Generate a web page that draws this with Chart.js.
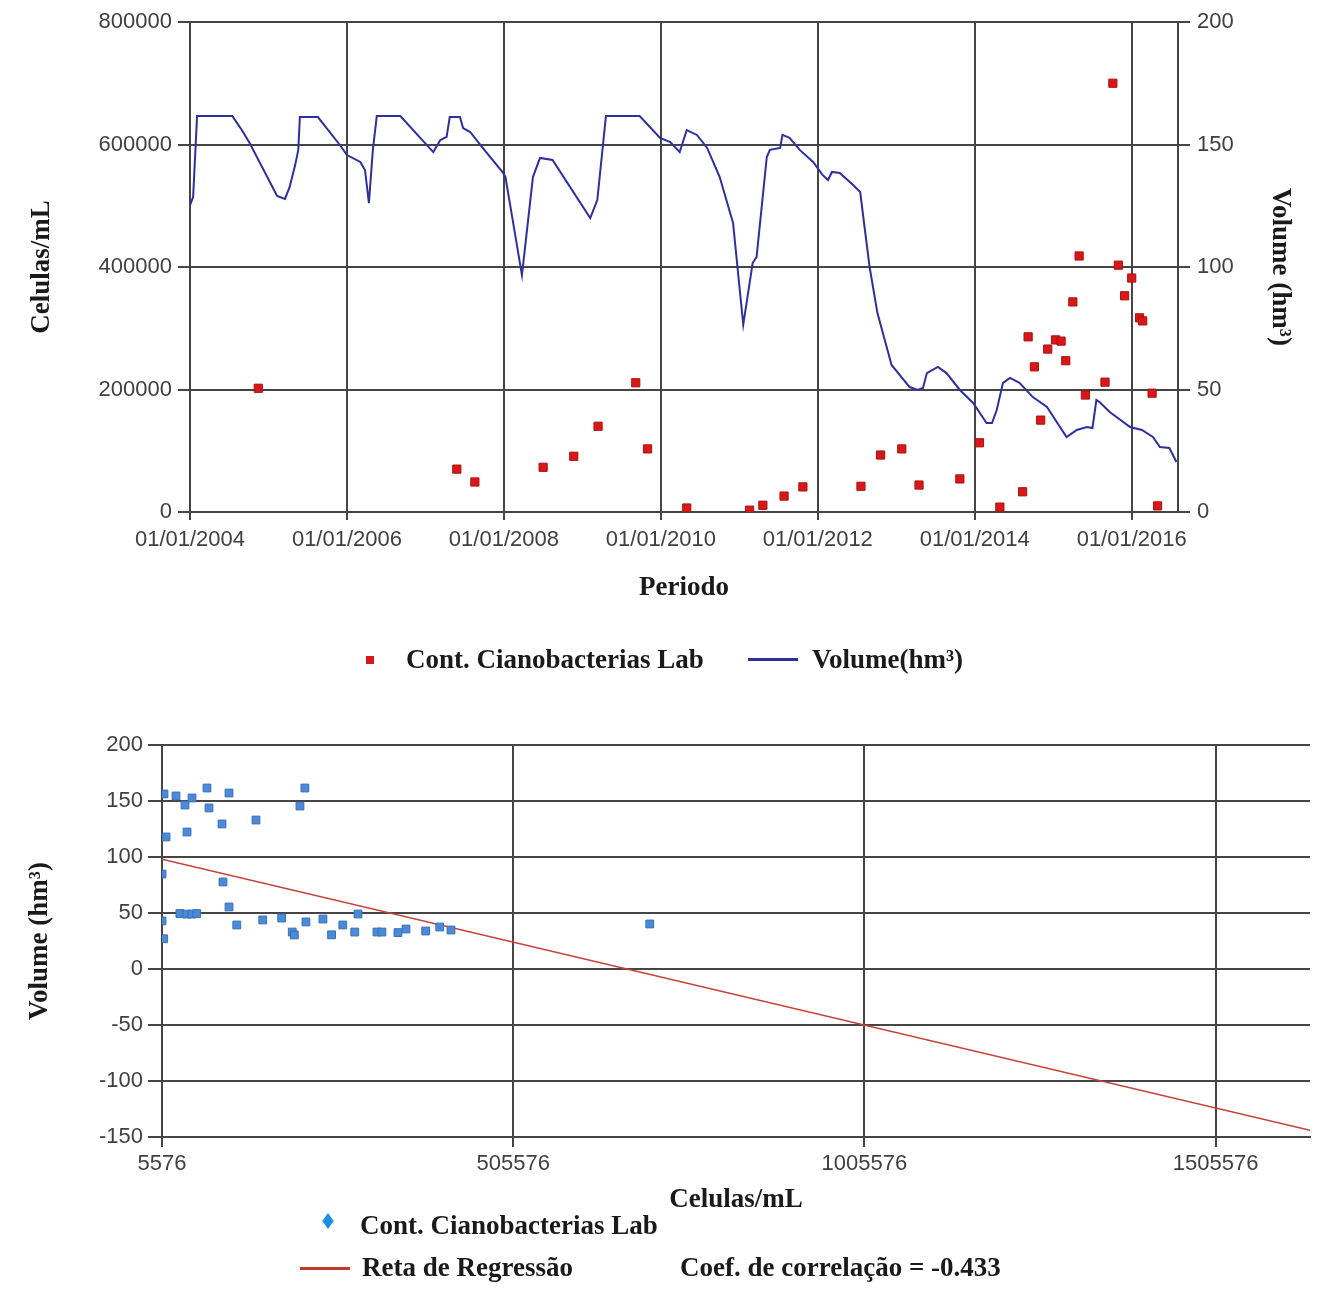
<!DOCTYPE html>
<html>
<head>
<meta charset="utf-8">
<script src="https://cdn.jsdelivr.net/npm/chart.js@4.4.1/dist/chart.umd.min.js"></script>
<style>
html,body{margin:0;padding:0;background:#fff;}
#wrap{position:relative;width:1336px;height:1293px;overflow:hidden;background:#fff;}
#c1{position:absolute;left:0;top:0;width:1336px;height:700px;}
#c2{position:absolute;left:0;top:700px;width:1336px;height:593px;}
.leg{position:absolute;font-family:"Liberation Serif","Times New Roman",serif;font-weight:bold;font-size:27px;color:#1a1a1a;white-space:nowrap;line-height:27px;}
.mk{position:absolute;}
</style>
</head>
<body>
<div id="wrap">
<canvas id="c1" width="1336" height="700"></canvas>
<canvas id="c2" width="1336" height="593"></canvas>

<div class="mk" style="left:366px;top:656px;width:8px;height:8px;background:#d81818;"></div>
<div class="leg" style="left:406px;top:646px;">Cont. Cianobacterias Lab</div>
<div class="mk" style="left:748px;top:658px;width:50px;height:3px;background:#2f2f9f;"></div>
<div class="leg" style="left:812px;top:646px;">Volume(hm³)</div>

<div class="mk" style="left:324px;top:1217px;width:8px;height:8px;background:#1e8fe6;transform:scaleY(1.4) rotate(45deg);"></div>
<div class="leg" style="left:360px;top:1212px;">Cont. Cianobacterias Lab</div>
<div class="mk" style="left:300px;top:1267px;width:50px;height:3px;background:#c0392b;"></div>
<div class="leg" style="left:362px;top:1254px;">Reta de Regressão</div>
<div class="leg" style="left:680px;top:1254px;">Coef. de correlação = -0.433</div>
</div>

<script>
// ---------- Top chart data ----------
const volumeYears = [
  2004.00, 2004.04, 2004.09, 2004.54, 2004.66, 2004.76, 2005.11, 2005.21, 2005.27, 2005.34,
  2005.38, 2005.40, 2005.63, 2005.91, 2006.00, 2006.17, 2006.23, 2006.28, 2006.33, 2006.38,
  2006.68, 2007.10, 2007.19, 2007.27, 2007.31, 2007.44, 2007.48, 2007.57, 2007.73, 2007.99,
  2008.02, 2008.23, 2008.37, 2008.46, 2008.62, 2009.10, 2009.19, 2009.26, 2009.30, 2009.73,
  2009.99, 2010.12, 2010.24, 2010.33, 2010.46, 2010.59, 2010.75, 2010.92, 2011.05, 2011.17,
  2011.22, 2011.35, 2011.39, 2011.52, 2011.55, 2011.64, 2011.77, 2011.94, 2012.06, 2012.13,
  2012.18, 2012.28, 2012.45, 2012.54, 2012.66, 2012.76, 2012.94, 2013.17, 2013.27, 2013.34,
  2013.39, 2013.53, 2013.64, 2013.81, 2013.98, 2014.15, 2014.22, 2014.28, 2014.36, 2014.45,
  2014.57, 2014.74, 2014.92, 2015.17, 2015.30, 2015.43, 2015.50, 2015.55, 2015.59, 2015.72,
  2015.98, 2016.13, 2016.27, 2016.36, 2016.48, 2016.57
];
const volumeValues = [
  125.3, 128.6, 161.6, 161.6, 155.9, 150.6, 129.0, 127.8, 132.7, 141.6,
  147.8, 161.2, 161.2, 149.8, 145.7, 142.9, 139.6, 126.1, 147.8, 161.6,
  161.6, 146.9, 151.8, 153.1, 161.2, 161.2, 156.7, 155.1, 148.6, 138.4,
  136.7, 96.7, 136.7, 144.5, 143.7, 120.0, 127.3, 149.0, 161.6, 161.6,
  152.7, 151.0, 146.9, 155.9, 153.9, 148.6, 136.7, 118.0, 76.5, 101.6,
  104.1, 144.9, 147.8, 148.6, 153.9, 152.7, 147.8, 142.9, 137.6, 135.5,
  138.8, 138.4, 133.5, 130.6, 100.0, 81.2, 60.0, 51.0, 49.8, 50.6,
  56.7, 59.2, 56.7, 49.8, 44.5, 36.3, 36.3, 41.6, 52.7, 54.7,
  52.7, 46.9, 42.9, 30.6, 33.5, 34.7, 34.3, 45.7, 44.9, 40.8,
  34.7, 33.5, 30.6, 26.5, 26.1, 20.4
];
const cyanoYears = [
  2004.87, 2007.40, 2007.63, 2008.50, 2008.89, 2009.20, 2009.68, 2009.83, 2010.33, 2011.13,
  2011.30, 2011.57, 2011.81, 2012.55, 2012.80, 2013.07, 2013.29, 2013.81, 2014.06, 2014.32,
  2014.61, 2014.68, 2014.76, 2014.84, 2014.93, 2015.03, 2015.10, 2015.16, 2015.25, 2015.33,
  2015.41, 2015.66, 2015.76, 2015.83, 2015.91, 2016.00, 2016.10, 2016.14, 2016.26, 2016.33
];
const cyanoCells = [
  202000, 70000, 49000, 73000, 91000, 140000, 211000, 103000, 6500, 3000,
  11000, 26000, 41000, 42000, 93000, 103000, 44000, 54000, 113000, 8000,
  33000, 286000, 237000, 150000, 266000, 281000, 279000, 247000, 343000, 418000,
  191000, 212000, 700000, 403000, 353000, 382000, 317000, 312000, 194000, 10000
];
const dateTicks = [2004, 2006, 2008, 2010, 2012, 2014, 2016];
const cellTicksTop = [0, 200000, 400000, 600000, 800000];
const volumeTicksTop = [0, 50, 100, 150, 200];

// ---------- Bottom chart data ----------
const scatterCells = [
  8400, 25500, 38300, 48300, 69600, 72500, 101000, 11300, 41200, 91000,
  139400, 202000, 209000, 5600, 92400, 101000, 31000, 41000, 48000, 55000,
  5600, 8000, 112000, 149000, 176000, 191000, 194000, 210500, 234700, 247000,
  263000, 280000, 284600, 311600, 318700, 341500, 353000, 381000, 401000, 417000,
  700000
];
const scatterVolumes = [
  156.3, 154.5, 146.4, 152.7, 161.6, 143.8, 157.1, 117.9, 122.3, 129.5,
  133.0, 145.5, 161.6, 84.8, 77.7, 55.4, 49.5, 49.0, 49.0, 49.5,
  42.9, 27.0, 39.3, 43.8, 45.5, 33.0, 30.4, 42.0, 44.6, 30.5,
  39.3, 33.0, 49.1, 33.0, 33.0, 32.5, 35.7, 33.9, 37.5, 34.8,
  40.2
];
const regressionCells = [5576, 1640000];
const regressionVolumes = [98, -144];
const scatterCellTicks = [5576, 505576, 1005576, 1505576];
const scatterVolumeTicks = [-150, -100, -50, 0, 50, 100, 150, 200];

// ---------- Styling ----------
const GRID = '#454545';
const TICKC = '#404040';
const tickFont = {family: '"Liberation Sans", Arial, sans-serif', size: 22};
const titleFont = {family: '"Liberation Serif", "Times New Roman", serif', size: 27, weight: 'bold'};
const setTicks = arr => s => { s.ticks = arr.map(v => ({value: v})); };

new Chart(document.getElementById('c1'), {
  data: {
    datasets: [
      {
        type: 'scatter',
        label: 'Cont. Cianobacterias Lab',
        data: cyanoYears.map((x, i) => ({x: x, y: cyanoCells[i]})),
        yAxisID: 'y',
        pointStyle: 'rect',
        pointRadius: 5.8,
        backgroundColor: '#d81818',
        borderColor: '#b01010',
        borderWidth: 1,
        order: 0
      },
      {
        type: 'line',
        label: 'Volume(hm³)',
        data: volumeYears.map((x, i) => ({x: x, y: volumeValues[i]})),
        yAxisID: 'y2',
        borderColor: '#2f2f9f',
        borderWidth: 2,
        pointRadius: 0,
        tension: 0,
        fill: false,
        order: 1
      }
    ]
  },
  options: {
    responsive: false,
    animation: false,
    layout: {padding: {top: 22, left: 0, right: 0, bottom: 0}},
    plugins: {legend: {display: false}, tooltip: {enabled: false}},
    scales: {
      x: {
        type: 'linear', min: 2004, max: 2016.59,
        afterBuildTicks: setTicks(dateTicks),
        afterFit: s => { s.height = 188; },
        ticks: {callback: v => '01/01/' + v, font: tickFont, color: TICKC, padding: 7, maxRotation: 0, autoSkip: false},
        grid: {color: GRID, lineWidth: 2, tickLength: 8},
        border: {color: GRID, width: 2},
        title: {display: true, text: 'Periodo', font: titleFont, color: '#1a1a1a', padding: {top: 0, bottom: 96}}
      },
      y: {
        type: 'linear', position: 'left', min: 0, max: 800000,
        afterBuildTicks: setTicks(cellTicksTop),
        afterFit: s => { s.width = 190; },
        ticks: {callback: v => String(v), font: tickFont, color: TICKC, padding: 6},
        grid: {color: GRID, lineWidth: 2, tickLength: 12},
        border: {color: GRID, width: 2},
        title: {display: true, text: 'Celulas/mL', font: titleFont, color: '#1a1a1a', padding: {top: 26, bottom: 0}}
      },
      y2: {
        type: 'linear', position: 'right', min: 0, max: 200,
        afterBuildTicks: setTicks(volumeTicksTop),
        afterFit: s => { s.width = 158; },
        ticks: {callback: v => String(v), font: tickFont, color: TICKC, padding: 7},
        grid: {color: GRID, lineWidth: 2, tickLength: 12, drawOnChartArea: false},
        border: {color: GRID, width: 2},
        title: {display: true, text: 'Volume (hm³)', font: titleFont, color: '#1a1a1a', padding: {top: 40, bottom: 0}}
      }
    }
  }
});

new Chart(document.getElementById('c2'), {
  data: {
    datasets: [
      {
        type: 'line',
        label: 'Reta de Regressão',
        data: regressionCells.map((x, i) => ({x: x, y: regressionVolumes[i]})),
        borderColor: '#c8403a',
        borderWidth: 1.6,
        pointRadius: 0,
        fill: false,
        order: 1
      },
      {
        type: 'scatter',
        label: 'Cont. Cianobacterias Lab',
        data: scatterCells.map((x, i) => ({x: x, y: scatterVolumes[i]})),
        pointStyle: 'rect',
        pointRadius: 5.5,
        backgroundColor: '#4a8ad6',
        borderColor: '#3a6fb8',
        borderWidth: 1,
        order: 0
      }
    ]
  },
  options: {
    responsive: false,
    animation: false,
    layout: {padding: {top: 45, left: 0, right: 26, bottom: 0}},
    plugins: {legend: {display: false}, tooltip: {enabled: false}},
    scales: {
      x: {
        type: 'linear', min: 5576, max: 1640000,
        afterBuildTicks: setTicks(scatterCellTicks),
        afterFit: s => { s.height = 156; },
        ticks: {callback: v => String(v), font: tickFont, color: TICKC, padding: 4, maxRotation: 0, autoSkip: false},
        grid: {color: GRID, lineWidth: 2, tickLength: 10},
        border: {color: GRID, width: 2},
        title: {display: true, text: 'Celulas/mL', font: titleFont, color: '#1a1a1a', padding: {top: 0, bottom: 77}}
      },
      y: {
        type: 'linear', position: 'left', min: -150, max: 200,
        afterBuildTicks: setTicks(scatterVolumeTicks),
        afterFit: s => { s.width = 162; },
        ticks: {callback: v => String(v), font: tickFont, color: TICKC, padding: 5},
        grid: {color: GRID, lineWidth: 2, tickLength: 14},
        border: {color: GRID, width: 2},
        title: {display: true, text: 'Volume (hm³)', font: titleFont, color: '#1a1a1a', padding: {top: 24, bottom: 0}}
      }
    }
  }
});
</script>
</body>
</html>
